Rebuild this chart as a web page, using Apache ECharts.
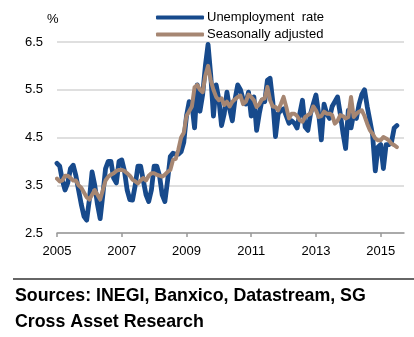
<!DOCTYPE html>
<html><head><meta charset="utf-8">
<script src="https://cdn.jsdelivr.net/npm/echarts@6/dist/echarts.min.js"></script>
<style>html,body{margin:0;padding:0;background:#fff}#c{width:414px;height:337px}</style>
</head><body><div id="c"></div>
<script>
// Monthly data, Jan 2005 .. Jul 2015
const startYear = 2005;
const seriesNames = ['Unemployment  rate', 'Seasonally adjusted'];
const unemployment = [
  3.96, 3.9, 3.6, 3.4, 3.55, 3.85, 3.92, 3.7, 3.4, 3.1, 2.85, 2.77,
  3.2, 3.78, 3.5, 3.1, 2.8, 3.3, 3.85, 4.0, 4.0, 3.65, 3.55, 4.0,
  4.03, 3.8, 3.4, 3.2, 3.19, 3.5, 3.9, 3.9, 3.6, 3.3, 3.16, 3.4,
  3.9, 3.9, 3.7, 3.3, 3.16, 3.6, 4.1, 4.17, 4.15, 4.15, 4.2, 4.4,
  4.95, 5.25, 5.2, 4.7, 5.6, 5.05, 5.4, 6.0, 6.45, 5.8, 4.95, 5.6,
  5.3, 4.75, 5.0, 5.45, 5.1, 4.85, 5.3, 5.6, 5.5, 5.3, 5.2, 5.45,
  4.95, 5.35, 4.65, 5.0, 5.28, 5.25, 5.7, 5.74, 5.25, 4.52, 5.0, 5.07,
  5.1, 4.95, 4.8, 4.85, 4.8, 4.7, 5.0, 5.28, 4.72, 4.65, 5.0, 5.2,
  5.39, 5.0, 4.45, 5.2, 5.0, 4.9, 5.15, 5.25, 5.35, 5.0, 4.6, 4.27,
  5.07, 4.7, 5.0, 4.9, 5.2, 5.4, 5.5, 5.15, 4.85, 4.55, 3.8, 4.3,
  4.35, 3.85, 4.35, 4.35, 4.4, 4.7, 4.75
];
const seasonallyAdjusted = [
  3.64, 3.58, 3.6, 3.7, 3.7, 3.65, 3.6, 3.6, 3.5, 3.45, 3.35, 3.25,
  3.2, 3.3, 3.4, 3.3, 3.2, 3.4, 3.6, 3.68, 3.72, 3.75, 3.8, 3.82,
  3.82, 3.8, 3.75, 3.7, 3.62, 3.58, 3.54, 3.6, 3.65, 3.6, 3.7, 3.75,
  3.75, 3.72, 3.7, 3.68, 3.72, 3.78, 3.82, 4.03, 4.05, 4.25, 4.5, 4.6,
  4.95, 5.05, 5.15, 5.55, 5.6, 5.5, 5.45, 5.8, 6.0, 5.7, 5.5, 5.35,
  5.28, 5.32, 5.18, 5.25, 5.15, 5.25, 5.3, 5.35, 5.38, 5.2, 5.25, 5.4,
  5.35, 5.28, 5.14, 5.2, 5.3, 5.32, 5.56, 5.28, 5.15, 5.14, 5.07, 5.2,
  5.35, 5.14, 4.9, 5.0, 5.0, 4.95, 4.86, 4.83, 4.93, 4.97, 5.0, 5.15,
  5.07, 4.93, 4.95, 5.04, 5.0, 5.0, 4.97, 4.79, 4.85, 4.97, 4.95, 4.9,
  4.93, 5.35, 4.93, 5.0, 5.04, 5.07, 4.95, 4.79, 4.65, 4.58, 4.48, 4.44,
  4.44, 4.51, 4.48, 4.44, 4.37, 4.34, 4.3
];
const yTicks = ['2.5', '3.5', '4.5', '5.5', '6.5'];
const xTicks = ['2005', '2007', '2009', '2011', '2013', '2015'];
const unitLabel = '%';
const sourceLines = ['Sources: INEGI, Banxico, Datastream, SG', 'Cross Asset Research'];

const toPairs = arr => arr.map((v, i) => [startYear + i / 12, v]);
const FONT = '"Liberation Sans", Arial, sans-serif';
const chart = echarts.init(document.getElementById('c'), null, {renderer: 'canvas'});
chart.setOption({
  animation: false,
  backgroundColor: '#fff',
  grid: {left: 57, right: 10, top: 42, bottom: 104, containLabel: false},
  legend: {
    orient: 'vertical', left: 151, top: 6, itemWidth: 48, itemHeight: 4, itemGap: 4,
    icon: 'roundRect',
    textStyle: {fontFamily: FONT, fontSize: 13, color: '#000', padding: [0, 0, 0, -2]},
    data: seriesNames
  },
  xAxis: {
    type: 'value', min: 2005, max: 2015.72, interval: 2,
    axisLine: {show: true, lineStyle: {color: '#999', width: 1.5}},
    axisTick: {show: true, length: 4, lineStyle: {color: '#999', width: 1.5}},
    splitLine: {show: false},
    axisLabel: {
      fontFamily: FONT, fontSize: 13, color: '#000', margin: 12,
      showMaxLabel: false,
      formatter: v => xTicks.includes(String(Math.round(v))) ? String(Math.round(v)) : ''
    }
  },
  yAxis: {
    type: 'value', min: 2.5, max: 6.5, interval: 1,
    axisLine: {show: false}, axisTick: {show: false},
    splitLine: {show: true, lineStyle: {color: '#d4d4d4', width: 1.5}},
    axisLabel: {
      fontFamily: FONT, fontSize: 13, color: '#000', margin: 14,
      formatter: v => yTicks.find(t => Math.abs(parseFloat(t) - v) < 1e-6) || ''
    }
  },
  series: [
    {
      name: seriesNames[0], type: 'line', data: toPairs(unemployment), showSymbol: false, symbol: 'none',
      lineStyle: {color: '#174a8c', width: 4.8, cap: 'round', join: 'round'},
      itemStyle: {color: '#174a8c'}, z: 2
    },
    {
      name: seriesNames[1], type: 'line', data: toPairs(seasonallyAdjusted), showSymbol: false, symbol: 'none',
      lineStyle: {color: '#a68672', width: 4, cap: 'round', join: 'round'},
      itemStyle: {color: '#a68672'}, z: 3
    }
  ],
  graphic: [
    {type: 'text', left: 47, top: 13, style: {text: unitLabel, font: '13px ' + FONT, fill: '#000'}},
    {type: 'line', shape: {x1: 13, y1: 279, x2: 414, y2: 279}, style: {stroke: '#666', lineWidth: 2}},
    {type: 'text', left: 15, top: 287, style: {text: sourceLines[0], font: 'bold 17.8px ' + FONT, fill: '#000'}},
    {type: 'text', left: 15, top: 313, style: {text: sourceLines[1], font: 'bold 17.8px ' + FONT, fill: '#000'}}
  ]
});
</script></body></html>
